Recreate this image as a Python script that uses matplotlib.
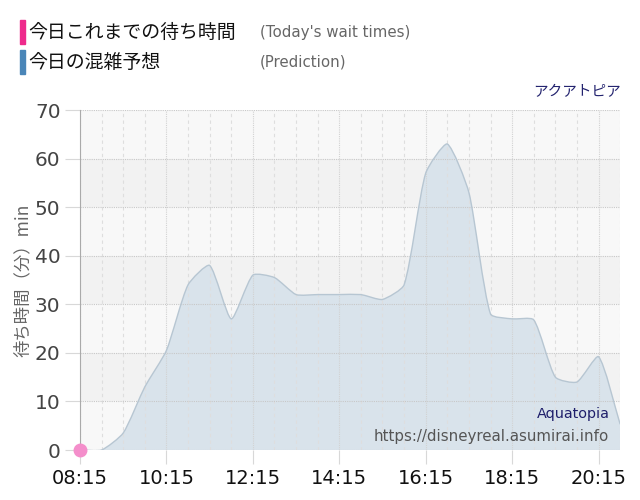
import matplotlib
matplotlib.use("Agg")
import matplotlib.pyplot as plt
from matplotlib.path import Path
from matplotlib.patches import PathPatch, Rectangle
import numpy as np

plt.rcParams['font.family'] = ['DejaVu Sans', 'Noto Sans CJK JP']
JP = ['Noto Sans CJK JP', 'DejaVu Sans']

# 予想 (prediction), every 30 min
times = ['08:15', '08:45', '09:15', '09:45', '10:15', '10:45', '11:15', '11:45',
         '12:15', '12:45', '13:15', '13:45', '14:15', '14:45', '15:15', '15:45',
         '16:15', '16:45', '17:15', '17:45', '18:15', '18:45', '19:15', '19:45',
         '20:15', '20:45']
pred = [0, 0, 3.5, 13, 20.5, 34, 38, 27,
        36, 35.5, 32, 32, 32, 32, 31, 34,
        57, 63, 53, 28, 27, 26.8, 15, 14,
        19.2, 5.3]

# 今日これまでの待ち時間 (actual)
act_times = ['08:15']
act_vals = [0]

tick_labels = ['08:15', '10:15', '12:15', '14:15', '16:15', '18:15', '20:15']
y_ticks = [0, 10, 20, 30, 40, 50, 60, 70]


def to_h(s):
    h, m = s.split(':')
    return int(h) + int(m) / 60


x = np.array([to_h(t) for t in times])
y = np.array(pred, dtype=float)

fig = plt.figure(figsize=(6.4, 5.0), dpi=100)
ax = fig.add_axes([0.125, 0.1, 0.844, 0.68])
ax.set_xlim(x[0], x[-1])
ax.set_ylim(0, 70)

# background bands
for i in range(7):
    ax.axhspan(y_ticks[i], y_ticks[i + 1], color='#f2f2f2' if i % 2 else '#f8f8f8',
               lw=0, zorder=0)

# smooth curve (bezier with small tension), built in pixel space
pts = ax.transData.transform(np.column_stack([x, y]))
t = 0.2
verts = [pts[0]]
codes = [Path.MOVETO]
ctrl_prev, ctrl_next = [], []
for i in range(len(pts)):
    p = pts[max(i - 1, 0)]
    c = pts[i]
    n = pts[min(i + 1, len(pts) - 1)]
    d01 = np.hypot(*(c - p))
    d12 = np.hypot(*(n - c))
    tot = d01 + d12
    s01 = d01 / tot if tot else 0
    s12 = d12 / tot if tot else 0
    ctrl_prev.append(c - t * s01 * (n - p))
    ctrl_next.append(c + t * s12 * (n - p))
for i in range(1, len(pts)):
    verts += [ctrl_next[i - 1], ctrl_prev[i], pts[i]]
    codes += [Path.CURVE4] * 3
line_verts = ax.transData.inverted().transform(np.array(verts))
line_path = Path(line_verts, codes)

area_verts = list(line_verts) + [[x[-1], 0], [x[0], 0], [x[0], 0]]
area_codes = list(codes) + [Path.LINETO, Path.LINETO, Path.CLOSEPOLY]
ax.add_patch(PathPatch(Path(area_verts, area_codes), facecolor='#d9e3eb',
                       edgecolor='none', zorder=1))
ax.add_patch(PathPatch(line_path, facecolor='none', edgecolor='#b7c6d2', lw=1, zorder=3))

# grid
for h in np.arange(x[0], x[-1] + 0.01, 0.5):
    major = abs((h - x[0]) % 2) < 1e-6
    ax.axvline(h, color='#d2d2d2' if major else '#dedede', lw=0.8,
               ls=(0, (1, 1)) if major else (0, (3, 3)), zorder=2)
for v in y_ticks:
    ax.axhline(v, color='#c8c8c8', lw=0.8, ls=(0, (1, 1)), zorder=2)

# actual wait time point
ax.plot([to_h(t) for t in act_times], act_vals, 'o', color='#f48ecb', ms=9,
        clip_on=False, zorder=5)

ax.set_xticks([to_h(t) for t in tick_labels])
ax.set_xticklabels(tick_labels, fontsize=14, color='#111111')
ax.set_yticks(y_ticks)
ax.set_yticklabels([str(v) for v in y_ticks], fontsize=14.5, color='#444444')
ax.tick_params(axis='x', length=10, color='#d8d8d8', pad=4)
ax.tick_params(axis='y', length=11, color='#d8d8d8', pad=3)
for s in ['top', 'right', 'bottom']:
    ax.spines[s].set_visible(False)
ax.spines['left'].set_color('#aaaaaa')
ax.spines['left'].set_zorder(4)

ax.set_ylabel('待ち時間（分）min', family=JP, fontsize=12.5, color='#666666', labelpad=2)

# legend header
fig.patches.append(Rectangle((20 / 640, 1 - 44 / 500), 5 / 640, 24 / 500,
                             transform=fig.transFigure, color='#ee2a8c'))
fig.patches.append(Rectangle((20 / 640, 1 - 74 / 500), 5 / 640, 24 / 500,
                             transform=fig.transFigure, color='#4a86b8'))
fig.text(28 / 640, 1 - 32 / 500, '今日これまでの待ち時間', family=JP, fontsize=13.6,
         va='center', color='#111111')
fig.text(28 / 640, 1 - 62 / 500, '今日の混雑予想', family=JP, fontsize=13.6,
         va='center', color='#111111')
fig.text(260 / 640, 1 - 32 / 500, "(Today's wait times)", fontsize=10.8,
         va='center', color='#666666')
fig.text(260 / 640, 1 - 62 / 500, '(Prediction)', fontsize=10.8,
         va='center', color='#666666')
fig.text(621 / 640, 1 - 92 / 500, 'アクアトピア', family=JP, fontsize=10.5,
         va='center', ha='right', color='#22226e')

ax.text(0.98, 0.107, 'Aquatopia', transform=ax.transAxes, fontsize=10.4,
        ha='right', va='center', color='#1f1f6b', zorder=6)
ax.text(0.98, 0.04, 'https://disneyreal.asumirai.info', transform=ax.transAxes,
        fontsize=10.8, ha='right', va='center', color='#555555', zorder=6)

fig.savefig('out.png', dpi=100)
